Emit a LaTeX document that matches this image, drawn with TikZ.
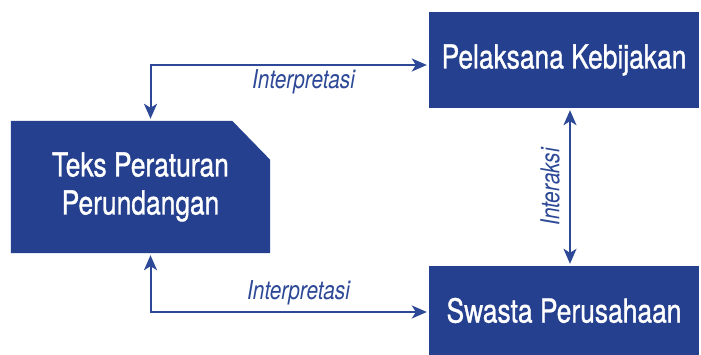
\documentclass[tikz,border=0pt]{standalone}
\usepackage{fontspec}
\setmainfont{TeX Gyre Heros}[FakeStretch=0.8]
\newfontfamily\boxfont{TeX Gyre Heros}[FakeStretch=0.8, FakeBold=1]
\usetikzlibrary{arrows.meta,positioning,backgrounds}
\definecolor{boxblue}{RGB}{37,64,142}
\definecolor{linkblue}{RGB}{44,72,150}
\tikzset{
  unitbox/.style={fill=boxblue, text=white, inner sep=0pt,
    font=\boxfont\fontsize{33}{38}\selectfont, align=center},
  link/.style={draw=linkblue, line width=2pt,
    {Stealth[length=15pt,width=13pt,inset=4pt]}-{Stealth[length=15pt,width=13pt,inset=4pt]},
    shorten <=2pt, shorten >=2pt},
  linklabel/.style={text=linkblue, font=\fontsize{26}{30}\selectfont\itshape, inner sep=0pt}
}
\begin{document}
\begin{tikzpicture}[x=1pt,y=-1pt]
\useasboundingbox (0,0) rectangle (701,355);
% the three parties
\node[unitbox, fill=none, minimum width=259pt, minimum height=132pt] (teks) at (140.5,187) {Teks Peraturan\\Perundangan};
\node[unitbox, minimum width=270pt, minimum height=96pt] (pelaksana) at (564,60) {Pelaksana Kebijakan};
\node[unitbox, minimum width=270pt, minimum height=89pt] (swasta) at (564,310.5) {Swasta Perusahaan};
% cut corner of the text box
\begin{scope}[on background layer]
\fill[boxblue] (teks.south west) -- (teks.north west) -- ([xshift=-38pt]teks.north east)
  -- ([yshift=-39pt]teks.north east) -- (teks.south east) -- cycle;
\end{scope}
% links
\draw[link] ([xshift=10pt]teks.north) |- ([yshift=-5pt]pelaksana.west)
  node[linklabel, pos=0.775, yshift=-17pt] (lblatas) {Interpretasi};
\draw[link] ([xshift=10pt]teks.south) |- ([yshift=-1.5pt]swasta.west)
  node[linklabel, pos=0.766, yshift=19pt] (lblbawah) {Interpretasi};
\draw[link] ([xshift=6pt]pelaksana.south) -- ([xshift=6pt]swasta.north)
  node[linklabel, midway, rotate=90, yshift=20pt] (lblinteraksi) {Interaksi};
\end{tikzpicture}
\end{document}
